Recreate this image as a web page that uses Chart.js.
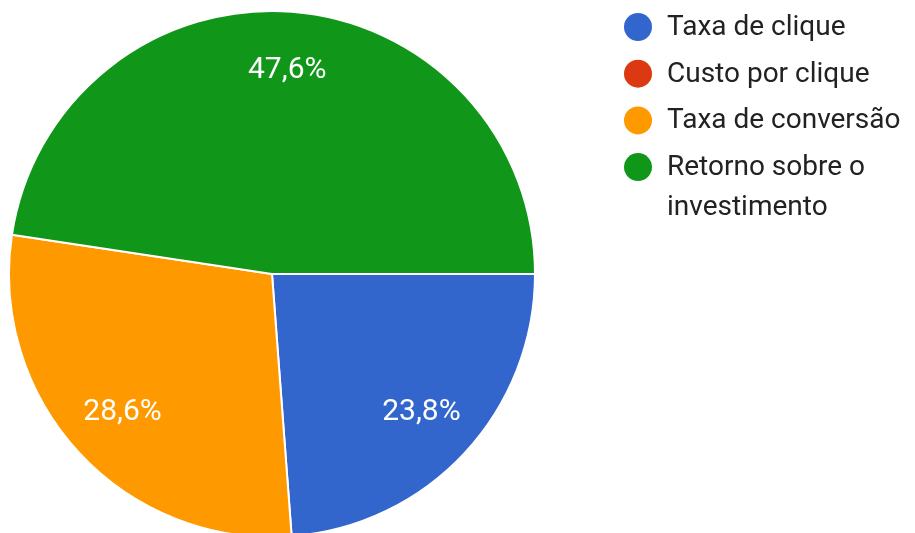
<!DOCTYPE html>
<html>
<head>
<meta charset="utf-8">
<script src="https://cdn.jsdelivr.net/npm/chart.js@4/dist/chart.umd.min.js"></script>
<style>
  html, body { margin: 0; padding: 0; background: #fff; }
  #wrap { width: 915px; height: 533px; overflow: hidden; }
</style>
</head>
<body>
<div id="wrap"><canvas id="pie" width="915" height="540"></canvas></div>
<script>
const labels = ["Taxa de clique", "Custo por clique", "Taxa de conversão", "Retorno sobre o investimento"];
const legendLines = [["Taxa de clique"], ["Custo por clique"], ["Taxa de conversão"], ["Retorno sobre o", "investimento"]];
const responses = [5, 0, 6, 10];
const colors = ["#3366cc", "#dc3912", "#ff9900", "#109618"];

// percentage text inside each slice
const sliceLabels = {
  id: "sliceLabels",
  afterDatasetsDraw(chart) {
    const ctx = chart.ctx;
    const meta = chart.getDatasetMeta(0);
    const data = chart.data.datasets[0].data;
    const total = data.reduce((a, b) => a + b, 0);
    ctx.save();
    ctx.fillStyle = "#fff";
    ctx.font = "30px Roboto";
    ctx.textAlign = "center";
    ctx.textBaseline = "middle";
    meta.data.forEach((arc, i) => {
      if (!data[i]) return;
      const { x, y, startAngle, endAngle, outerRadius } = arc.getProps(["x", "y", "startAngle", "endAngle", "outerRadius"], true);
      const mid = (startAngle + endAngle) / 2;
      const r = outerRadius * 0.775;
      const pct = (data[i] / total * 100).toFixed(1).replace(".", ",") + "%";
      ctx.fillText(pct, x + Math.cos(mid) * r, y + Math.sin(mid) * r);
    });
    ctx.restore();
  }
};

// legend on the right, with wrapped last entry
const sideLegend = {
  id: "sideLegend",
  afterDraw(chart) {
    const ctx = chart.ctx;
    ctx.save();
    ctx.font = "28px Roboto";
    ctx.textBaseline = "middle";
    let y = 27;
    legendLines.forEach((lines, i) => {
      ctx.fillStyle = colors[i];
      ctx.beginPath();
      ctx.arc(638, y, 14, 0, Math.PI * 2);
      ctx.fill();
      ctx.fillStyle = "#222";
      lines.forEach((t, j) => ctx.fillText(t, 667, y + 1 + j * 40));
      y += 46.7 + (lines.length - 1) * 40;
    });
    ctx.restore();
  }
};

new Chart(document.getElementById("pie"), {
  type: "pie",
  data: {
    labels: labels,
    datasets: [{
      data: responses,
      backgroundColor: colors,
      borderColor: "#fff",
      borderWidth: 2
    }]
  },
  options: {
    responsive: false,
    animation: false,
    rotation: 90,
    layout: { padding: { top: 10, bottom: 2, left: 8, right: 379 } },
    plugins: {
      legend: { display: false },
      tooltip: { enabled: false }
    }
  },
  plugins: [sliceLabels, sideLegend]
});
</script>
</body>
</html>
